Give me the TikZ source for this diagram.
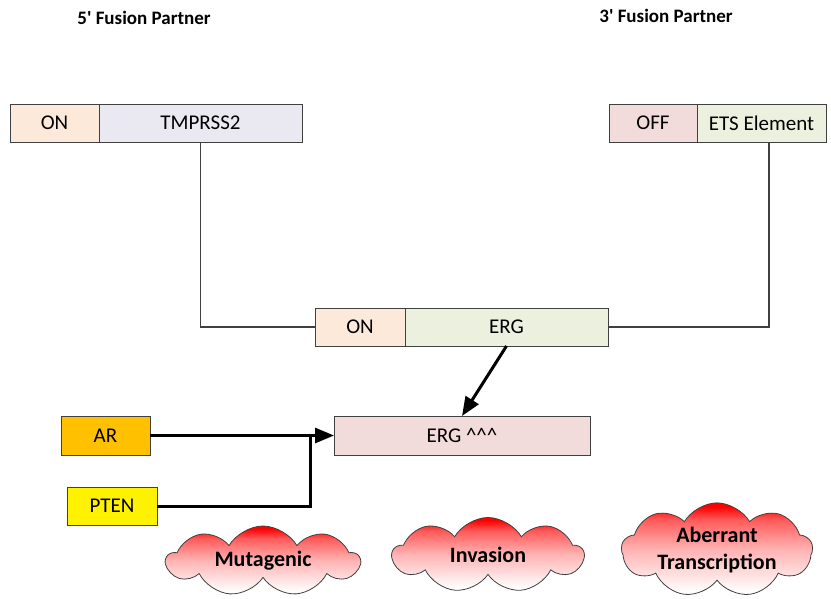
\documentclass[tikz,border=0pt]{standalone}
\usepackage{fontspec}
\setmainfont{Carlito}[Ligatures=TeXOff]
\usetikzlibrary{positioning,arrows.meta,shapes.symbols}

\definecolor{onfill}{HTML}{FDE9D9}
\definecolor{tmpfill}{HTML}{EAE8F1}
\definecolor{offfill}{HTML}{F2DCDB}
\definecolor{etsfill}{HTML}{EBF1DE}
\definecolor{arfill}{HTML}{FFC000}
\definecolor{edge}{HTML}{404040}

% red fading to white, downwards
\pgfdeclareverticalshading{redfade}{100bp}{
    color(0bp)=(white); color(27bp)=(white);
    color(50bp)=(red!30!white); color(66bp)=(red!65!white);
    color(73bp)=(red); color(100bp)=(red)}

\begin{document}
\begin{tikzpicture}[
    x=1pt, y=-1pt,
    seg/.style={rectangle, draw=edge, line width=1pt, fill=#1, minimum height=38pt, inner sep=0pt, outer sep=0pt, font=\fontsize{21}{25}\selectfont},
    title/.style={font=\fontsize{19}{23}\selectfont\bfseries},
    link/.style={draw=edge, line width=1.2pt},
    signal/.style={-{Triangle[length=19pt,width=15pt]}, line width=3pt, black},
    effect/.style={cloud, cloud puffs=9, cloud puff arc=120, cloud ignores aspect, draw=edge, line width=0.8pt, shading=redfade, inner sep=0pt, align=center, font=\fontsize{22}{27}\selectfont\bfseries}
]
    \useasboundingbox (0,0) rectangle (831,598);

    % Partner headings
    \node[title] (five) at (144,18) {5' Fusion Partner};
    \node[title] (three) at (666,16) {3' Fusion Partner};

    % 5' partner
    \node[seg=onfill, minimum width=89pt] (on5) at (54.5,123) {ON};
    \node[seg=tmpfill, minimum width=203pt, right=0pt of on5] (tmprss) {TMPRSS2};

    % 3' partner
    \node[seg=offfill, minimum width=88pt] (off3) at (653,123) {OFF};
    \node[seg=etsfill, minimum width=129pt, right=0pt of off3] (ets) {ETS Element};

    % Fusion product
    \node[seg=onfill, minimum width=90pt] (onfus) at (360,327) {ON};
    \node[seg=etsfill, minimum width=203pt, right=0pt of onfus] (erg) {ERG};

    % Overexpression and regulators
    \node[seg=offfill, minimum width=256pt, minimum height=39pt] (ergup) at (462,435.5) {ERG \^{}\^{}\^{}};
    \node[seg=arfill, minimum width=89pt, minimum height=39pt] (ar) at (105.5,435.5) {AR};
    \node[seg=yellow, minimum width=90pt] (pten) at (112,506) {PTEN};
    \coordinate (join) at (310,435.5);

    % Outcomes
    \node[effect, minimum width=193pt, minimum height=70pt] (muta) at (263,561) {Mutagenic};
    \node[effect, minimum width=191pt, minimum height=75pt] (inva) at (488,555) {Invasion};
    \node[effect, minimum width=191pt, minimum height=78pt] (aber) at (717,550) {Aberrant\\Transcription};

    % Connections
    \draw[link] (tmprss.south) |- (onfus.west);
    \draw[link] ([xshift=7.5pt]ets.south) |- (erg.east);
    \draw[signal] (erg.south) -- (ergup.north);
    \draw[signal] (ar.east) -- (ergup.west);
    \draw[line width=3pt] (pten.east) -| ([yshift=-1.5pt]join);
\end{tikzpicture}
\end{document}
